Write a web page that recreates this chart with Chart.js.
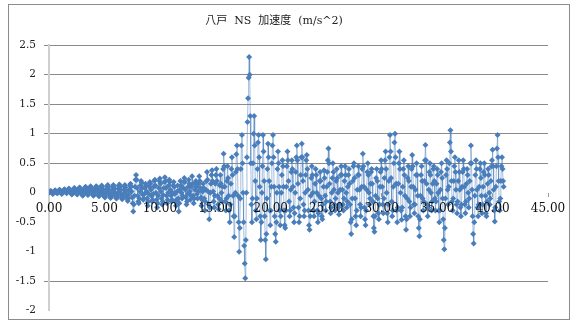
<!DOCTYPE html>
<html><head><meta charset="utf-8">
<script src="https://cdn.jsdelivr.net/npm/chart.js@4/dist/chart.umd.min.js"></script>
<style>html,body{margin:0;padding:0;background:#fff}#wrap{width:576px;height:325px;position:relative}</style>
</head><body><div id="wrap"><canvas id="c" width="576" height="325"></canvas></div>
<script>
const titleText = '八戸  NS  加速度  (m/s^2)';
const seriesName = 'NS';
const sampleInterval = 0.05; // seconds between samples
const startTime = 0;
// acceleration (m/s^2), one row per second
const accel = [
 0.00,0.01,0.02,0.03,0.02,0.01,-0.01,-0.02,-0.01,0.01,0.03,0.04,0.03,0.01,0.00,-0.01,0.00,0.02,0.04,0.05,
 0.04,0.02,0.00,-0.02,-0.01,0.01,0.03,0.05,0.06,0.04,0.02,0.00,-0.01,0.01,0.03,0.06,0.07,0.05,0.03,0.01,
-0.01,-0.03,-0.02,0.01,0.04,0.07,0.08,0.06,0.03,0.00,-0.02,-0.03,0.00,0.03,0.06,0.09,0.08,0.05,0.02,-0.01,
-0.04,-0.05,-0.02,0.02,0.06,0.09,0.10,0.07,0.03,-0.01,-0.04,-0.03,0.01,0.05,0.08,0.11,0.09,0.05,0.01,-0.03,
-0.05,-0.04,0.00,0.04,0.08,0.11,0.10,0.06,0.02,-0.03,-0.06,-0.05,-0.01,0.04,0.09,0.12,0.10,0.06,0.01,-0.04,
-0.07,-0.08,-0.04,0.01,0.06,0.11,0.13,0.10,0.05,-0.01,-0.06,-0.09,-0.07,-0.02,0.04,0.10,0.13,0.11,0.06,0.00,
-0.05,-0.09,-0.10,-0.06,0.00,0.07,0.12,0.14,0.10,0.04,-0.03,-0.08,-0.11,-0.08,-0.02,0.05,0.11,0.13,0.09,0.02,
-0.05,-0.10,-0.14,-0.10,-0.03,0.05,0.12,0.15,0.10,0.02,-0.08,-0.18,-0.32,-0.20,-0.05,0.10,0.22,0.30,0.22,0.08,
-0.05,-0.15,-0.18,-0.10,0.02,0.12,0.20,0.17,0.08,-0.03,-0.12,-0.10,-0.02,0.08,0.15,0.12,0.02,-0.10,-0.22,-0.15,
-0.02,0.10,0.18,0.15,0.05,-0.06,-0.15,-0.12,-0.02,0.10,0.20,0.22,0.12,0.00,-0.12,-0.25,-0.18,-0.05,0.08,0.20,
 0.24,0.15,0.02,-0.10,-0.20,-0.15,-0.04,0.08,0.18,0.26,0.20,0.08,-0.05,-0.18,-0.12,0.00,0.12,0.22,0.18,0.05,
-0.05,-0.15,-0.12,0.00,0.12,0.18,0.10,-0.02,-0.15,-0.22,-0.12,0.02,0.12,-0.10,-0.32,-0.18,0.05,0.20,0.12,0.00,
-0.10,-0.05,0.08,0.18,0.25,0.18,0.05,-0.08,-0.20,-0.15,-0.02,0.10,0.22,0.15,0.02,-0.12,-0.05,0.10,0.28,0.15,
-0.05,-0.18,-0.10,0.05,0.15,0.20,0.10,-0.02,-0.10,0.02,0.15,0.28,0.20,0.08,-0.08,-0.22,-0.12,0.02,0.15,0.08,
-0.10,-0.30,-0.15,0.05,0.20,0.35,0.22,0.02,-0.20,-0.45,-0.25,0.00,0.15,0.30,0.38,0.20,0.02,-0.15,-0.25,-0.05,
 0.15,0.30,0.40,0.20,-0.05,-0.20,-0.28,-0.10,0.12,0.30,0.15,0.00,-0.15,0.10,0.40,0.66,0.45,0.10,-0.15,-0.30,
-0.10,0.20,0.45,0.25,-0.05,-0.30,-0.50,-0.20,0.15,0.40,0.60,0.30,-0.05,-0.40,-0.75,-0.40,0.00,0.35,0.65,0.80,
 0.40,-0.05,-0.50,-1.00,-0.60,-0.10,0.40,0.80,0.98,0.50,0.00,-0.50,-0.90,-1.20,-1.45,-0.80,0.00,0.60,1.20,1.60,
 1.95,2.30,2.00,1.30,0.50,-0.20,-0.50,-0.10,0.50,1.00,1.30,0.80,0.20,-0.30,-0.45,-0.10,0.40,0.85,0.98,0.60,
 0.10,-0.40,-0.80,-0.50,0.00,0.45,0.98,0.70,0.20,-0.40,-0.80,-1.13,-0.70,-0.10,0.40,0.83,0.60,0.20,-0.30,-0.55,
-0.30,0.10,0.50,0.80,0.98,0.60,0.10,-0.40,-0.70,-0.83,-0.50,0.00,0.40,0.70,0.50,0.10,-0.30,-0.55,-0.40,0.00,
 0.30,0.55,0.45,0.10,-0.30,-0.55,-0.60,-0.30,0.10,0.45,0.70,0.55,0.20,-0.15,-0.40,-0.30,0.05,0.35,0.55,0.40,
 0.10,-0.25,-0.50,-0.35,0.00,0.35,0.60,0.80,0.55,0.15,-0.25,-0.50,-0.40,-0.10,0.30,0.60,0.83,0.60,0.20,-0.20,
-0.40,-0.30,0.00,0.30,0.55,0.64,0.40,0.05,-0.30,-0.55,-0.63,-0.40,-0.05,0.25,0.45,0.30,0.00,-0.30,-0.40,-0.15,
 0.15,0.40,0.30,0.00,-0.30,-0.50,-0.35,-0.05,0.20,0.35,0.20,-0.10,-0.40,-0.45,-0.20,0.10,0.38,0.25,-0.05,-0.30,
-0.15,0.10,0.35,0.55,0.75,0.50,0.15,-0.15,-0.35,-0.25,0.00,0.25,0.50,0.35,0.05,-0.20,-0.30,-0.10,0.20,0.40,
 0.25,0.00,-0.25,-0.37,-0.20,0.05,0.30,0.45,0.30,0.05,-0.20,-0.30,-0.10,0.20,0.45,0.30,0.00,-0.25,-0.15,0.10,
 0.30,0.40,0.15,-0.20,-0.50,-0.70,-0.45,-0.10,0.20,0.45,0.50,0.25,-0.10,-0.40,-0.55,-0.30,0.05,0.30,0.45,0.30,
 0.05,-0.20,-0.40,-0.25,0.10,0.40,0.66,0.45,0.10,-0.25,-0.45,-0.55,-0.30,0.05,0.35,0.50,0.30,0.00,-0.20,-0.10,
 0.15,0.35,0.40,0.15,-0.15,-0.40,-0.60,-0.66,-0.40,-0.05,0.25,0.40,0.20,-0.10,-0.35,-0.45,-0.20,0.10,0.35,0.55,
 0.40,0.10,-0.20,-0.35,-0.10,0.25,0.55,0.70,0.40,0.00,-0.35,-0.50,-0.20,0.20,0.60,0.98,0.70,0.25,-0.15,-0.40,
-0.30,0.10,0.50,0.85,1.00,0.60,0.15,-0.30,-0.50,-0.25,0.15,0.50,0.70,0.40,0.00,-0.30,-0.46,-0.25,0.10,0.40,
 0.55,0.30,-0.05,-0.40,-0.63,-0.45,-0.10,0.25,0.45,0.20,-0.15,-0.40,-0.25,0.10,0.40,0.64,0.45,0.10,-0.20,-0.35,
-0.20,0.05,0.30,0.50,0.30,-0.05,-0.40,-0.60,-0.74,-0.45,-0.05,0.30,0.45,0.20,-0.10,-0.30,-0.15,0.20,0.55,0.81,
 0.55,0.15,-0.20,-0.40,-0.25,0.05,0.35,0.50,0.30,0.00,-0.30,-0.15,0.15,0.40,0.45,0.20,-0.10,-0.30,-0.15,0.15,
 0.40,0.30,0.00,-0.30,-0.50,-0.30,0.05,0.35,0.50,0.25,-0.10,-0.45,-0.80,-0.96,-0.60,-0.10,0.30,0.55,0.40,0.05,
-0.20,0.10,0.50,0.85,1.06,0.70,0.20,-0.15,-0.30,-0.10,0.20,0.45,0.60,0.35,0.05,-0.20,-0.35,-0.15,0.20,0.55,
 0.35,0.05,-0.25,-0.40,-0.20,0.10,0.35,0.55,0.40,0.10,-0.20,-0.35,-0.15,0.15,0.40,0.30,0.00,-0.25,-0.10,0.20,
 0.50,0.80,0.50,0.05,-0.40,-0.70,-0.86,-0.50,-0.05,0.30,0.55,0.40,0.05,-0.25,-0.40,-0.20,0.10,0.40,0.50,0.25,
-0.05,-0.35,-0.20,0.10,0.35,0.50,0.30,-0.05,-0.35,-0.40,-0.15,0.15,0.40,0.30,0.00,-0.20,-0.10,0.20,0.45,0.55,
 0.73,0.45,0.05,-0.30,-0.49,-0.25,0.10,0.45,0.75,0.98,0.60,0.20,-0.15,-0.30,-0.10,0.20,0.45,0.60,0.40,0.20,
 0.10
];
const xTickValues = [0, 5, 10, 15, 20, 25, 30, 35, 40, 45];
const yTickValues = [2.5, 2, 1.5, 1, 0.5, 0, -0.5, -1, -1.5, -2];
const hiddenGridValues = [0, -0.5, -1, -2];

const points = accel.map((v, i) => ({x: startTime + i * sampleInterval, y: v}));

const frame = {
  id: 'frame',
  beforeDraw(chart) {
    const ctx = chart.ctx;
    ctx.save();
    ctx.fillStyle = '#fff';
    ctx.fillRect(0, 0, chart.width, chart.height);
    ctx.strokeStyle = '#8c8c8c';
    ctx.lineWidth = 1;
    ctx.strokeRect(8.5, 4.5, 561, 315);
    ctx.restore();
  }
};

new Chart(document.getElementById('c'), {
  type: 'line',
  data: {
    datasets: [{
      label: seriesName,
      data: points,
      borderColor: 'rgba(74,126,187,0.5)',
      borderWidth: 1,
      backgroundColor: '#4a7ebb',
      pointStyle: 'rectRot',
      pointRadius: 3,
      pointBorderWidth: 0,
      pointBackgroundColor: '#4a7ebb',
      tension: 0
    }]
  },
  options: {
    responsive: false,
    devicePixelRatio: 1,
    animation: false,
    layout: {padding: {left: 0, right: 28, top: 0, bottom: 9}},
    plugins: {
      legend: {display: false},
      tooltip: {enabled: false},
      title: {
        display: true,
        text: titleText,
        color: '#222',
        font: {family: "'DejaVu Serif', 'Noto Sans CJK JP'", size: 11, weight: 'normal'},
        padding: {top: 15, bottom: 17}
      }
    },
    scales: {
      x: {
        type: 'linear',
        position: {y: 0},
        min: 0, max: 45,
        afterBuildTicks(scale) { scale.ticks = xTickValues.map(v => ({value: v})); },
        ticks: {
          z: 1,
          color: '#111',
          font: {family: "'DejaVu Serif'", size: 12},
          padding: 5,
          maxRotation: 0,
          autoSkip: false,
          callback: v => Number(v).toFixed(2)
        },
        grid: {drawOnChartArea: false, drawTicks: true, tickLength: 4, color: '#9a9a9a'},
        border: {display: false}
      },
      y: {
        type: 'linear',
        min: -2, max: 2.5,
        afterBuildTicks(scale) { scale.ticks = yTickValues.map(v => ({value: v})); },
        afterFit(scale) { scale.width = 49; },
        ticks: {
          color: '#222',
          font: {family: "'DejaVu Serif'", size: 10.5},
          padding: 8,
          callback: v => String(v)
        },
        grid: {
          color: ctx => (ctx.tick && hiddenGridValues.includes(ctx.tick.value)) ? 'rgba(0,0,0,0)' : '#8a8a8a',
          lineWidth: 1,
          tickLength: 5,
          drawTicks: true
        },
        border: {display: true, color: '#cfcfcf', width: 2}
      }
    }
  },
  plugins: [frame]
});
</script>
</body></html>
